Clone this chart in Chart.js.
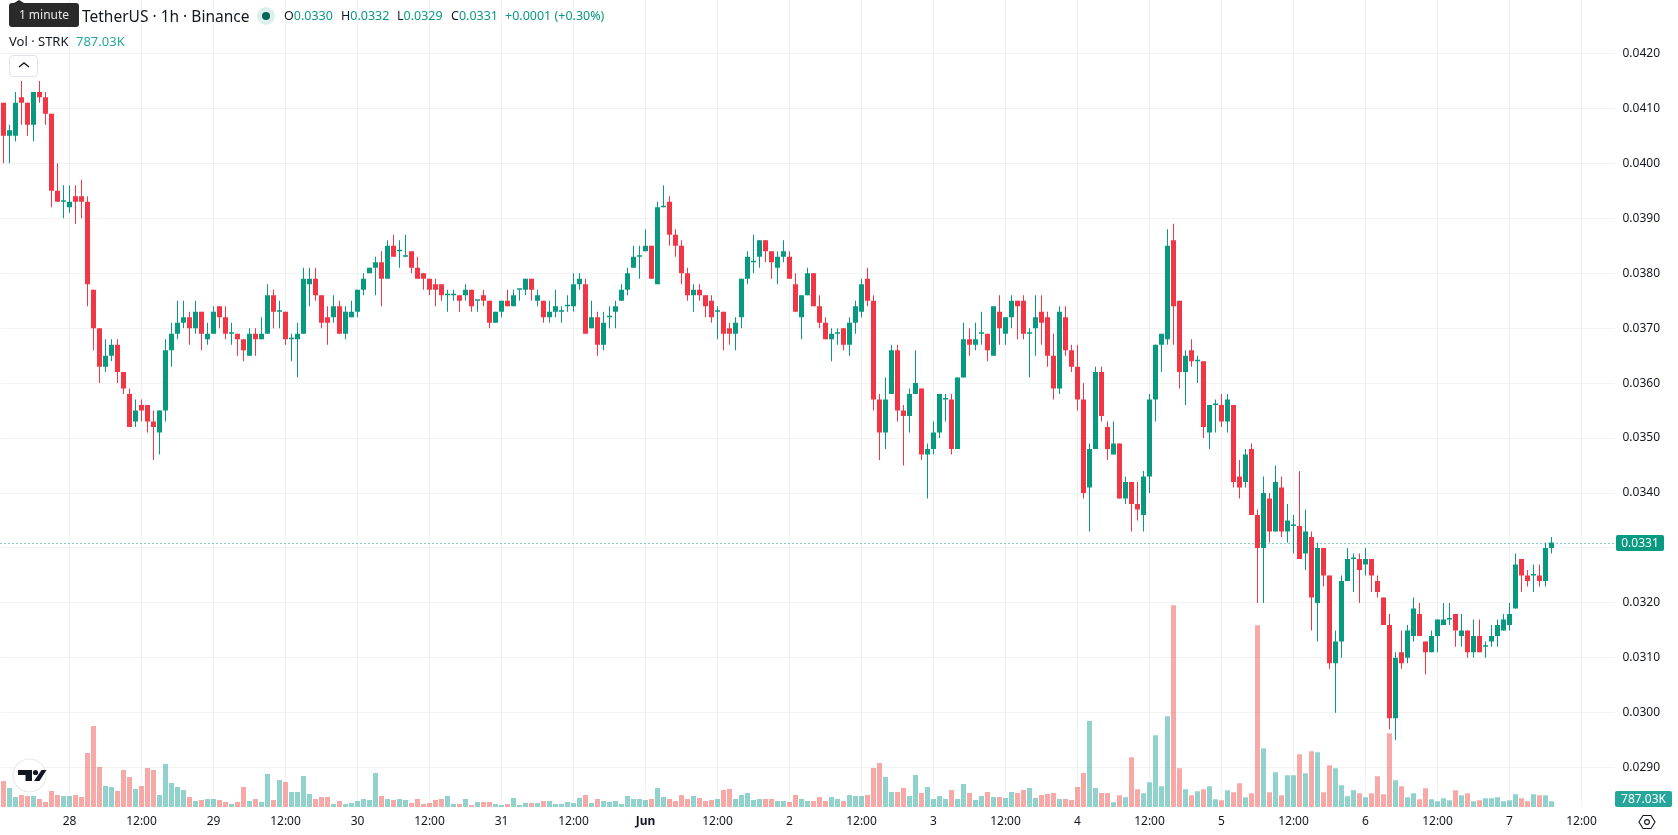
<!DOCTYPE html>
<html>
<head>
<meta charset="utf-8">
<title>STRK / USDT 1h</title>
<script src="https://cdn.jsdelivr.net/npm/chart.js@4"></script>
<style>
	html, body { margin: 0; padding: 0; background: #fff; overflow: hidden; }
	#wrap { position: relative; width: 1678px; height: 835px; font-family: "Noto Sans", sans-serif; color: #131722; }
	#wrap span, #wrap div.abs { position: absolute; white-space: nowrap; }
	canvas { position: absolute; left: 0; top: 0; }
	.up { color: #089981; }
	.ohlc { top: 6px; font-size: 12.5px; line-height: 20px; }
</style>
</head>
<body>
<div id="wrap">
	<canvas id="price-chart" width="1678" height="835"></canvas>

	<span style="left:82px;top:5px;font-size:15.5px;line-height:22px;">TetherUS · 1h · Binance</span>
	<div class="abs" style="left:257px;top:7px;width:18px;height:18px;border-radius:50%;background:#dcefec;"></div>
	<div class="abs" style="left:262px;top:12px;width:8px;height:8px;border-radius:50%;background:#056656;"></div>
	<span class="ohlc" style="left:284px;">O<b class="up" style="font-weight:400">0.0330</b></span>
	<span class="ohlc" style="left:341px;">H<b class="up" style="font-weight:400">0.0332</b></span>
	<span class="ohlc" style="left:397px;">L<b class="up" style="font-weight:400">0.0329</b></span>
	<span class="ohlc" style="left:451px;">C<b class="up" style="font-weight:400">0.0331</b></span>
	<span class="ohlc up" style="left:505px;">+0.0001 (+0.30%)</span>
	<span style="left:9px;top:31px;font-size:13px;line-height:20px;">Vol · STRK</span>
	<span style="left:76px;top:31px;font-size:13px;line-height:20px;color:#26a69a;">787.03K</span>

	<!-- hover tip over the start of the title -->
	<div class="abs" style="left:14px;top:0;width:0;height:0;border-left:5px solid transparent;border-right:5px solid transparent;border-bottom:3px solid #2a2a2a;"></div>
	<div class="abs" style="left:9px;top:3px;width:70px;height:24px;border-radius:3px;background:#2a2a2a;"></div>
	<span style="left:9px;top:3px;width:70px;text-align:center;font-size:12px;line-height:24px;color:#e8e8e8;">1 minute</span>

	<!-- collapse button -->
	<div class="abs" style="left:9px;top:55px;width:27px;height:20px;border:1px solid #e0e3eb;border-radius:4px;background:#fff;"></div>
	<svg style="position:absolute;left:17px;top:61px" width="14" height="8"><path d="M2 6 L7 2 L12 6" fill="none" stroke="#131722" stroke-width="1.4"/></svg>

	<!-- logo badge -->
	<svg style="position:absolute;left:12px;top:758px" width="35" height="35">
		<circle cx="17.5" cy="17.5" r="16.5" fill="#fff" stroke="#e9eaec" stroke-width="1.2"/>
		<path d="M6.5 12 H20.5 V23 H14 V17 H6.5 Z M30 12 H35 L28 23 H22.5 Z" fill="#131722" transform="translate(-0.5 0)"/>
		<circle cx="23.5" cy="14.5" r="2.6" fill="#131722"/>
	</svg>

	<!-- settings glyph -->
	<svg style="position:absolute;left:1638px;top:813px" width="18" height="18">
		<path d="M5 2.5 H13 L17 9 L13 15.5 H5 L1 9 Z" fill="none" stroke="#131722" stroke-width="1.1"/>
		<circle cx="9" cy="9" r="2.4" fill="none" stroke="#131722" stroke-width="1.1"/>
	</svg>
</div>

<script>
// prices are kept in units of 0.0001 USDT, one candle per hour, first candle 27 May 13:00
const opens = [
	411,405,405,412,411,407,413,412,409,395, 393,392,394,394,393,377,370,363,365,367,
	362,358,353,356,356,353,351,355,366,369, 371,372,370,373,368,369,374,372,369,369,
	368,365,369,368,369,376,373,373,368,368, 369,378,379,376,372,372,374,369,372,373,
	377,380,381,382,379,385,384,383,384,381, 380,379,378,378,376,376,376,376,377,375,
	376,375,371,373,375,374,377,377,379,375, 375,372,373,373,374,374,378,378,370,372,
	367,372,373,375,377,381,383,384,385,378, 392,393,387,385,380,376,377,376,375,373,
	373,370,369,372,379,382,383,386,384,381, 383,383,378,372,376,380,374,371,368,369,
	370,367,371,373,379,375,357,351,358,366, 355,354,358,359,347,348,351,357,357,348,
	361,368,367,369,369,365,373,369,372,375, 375,369,370,373,372,365,359,372,366,363,
	357,341,348,362,352,347,349,339,342,338, 336,343,357,367,368,386,375,362,366,364,
	364,351,356,356,353,356,343,342,348,336, 330,339,333,341,333,334,334,329,332,320,
	330,325,309,313,324,328,328,327,328,324, 321,316,299,311,310,314,318,313,311,314,
	316,317,318,314,315,311,314,312,313,314, 315,316,319,328,325,325,325,324,330
];
const highs = [
	411,407,413,415,411,413,415,413,409,400, 396,396,396,397,394,377,370,368,368,368,
	362,359,357,357,356,355,355,368,371,375, 375,373,375,373,371,374,374,374,371,369,
	368,370,370,372,378,377,375,373,369,371, 381,381,381,376,374,376,375,374,375,377,
	380,381,383,384,386,387,386,387,384,383, 380,379,379,378,377,377,376,378,377,375,
	377,375,373,375,377,377,377,379,379,377, 375,375,377,374,376,380,380,379,375,373,
	373,374,375,378,381,385,385,388,385,393, 396,394,388,386,381,378,378,376,376,374,
	373,371,372,379,384,387,386,386,384,384, 386,384,380,376,381,380,376,372,370,370,
	370,372,375,379,381,376,358,361,367,367, 356,359,366,359,349,353,358,358,358,361,
	371,370,371,373,369,374,376,372,376,375, 376,370,376,376,373,369,374,374,367,367,
	360,349,363,363,353,353,349,343,342,342, 344,358,367,369,388,389,375,366,368,365,
	364,356,357,358,358,356,346,348,349,337, 343,340,345,343,338,336,344,337,333,331,
	330,325,315,325,330,329,329,330,328,325, 321,318,311,315,316,321,320,313,315,317,
	320,320,318,318,315,317,317,313,316,317, 318,320,329,328,326,327,327,331,332
];
const lows = [
	400,400,404,407,405,404,411,407,392,393, 390,391,389,390,374,366,360,362,364,360,
	358,352,352,353,351,346,347,353,363,368, 370,367,369,366,367,369,370,368,367,365,
	364,365,365,368,369,370,370,367,364,361, 369,374,375,370,367,371,369,368,372,372,
	376,380,376,374,379,383,381,383,380,379, 377,376,374,375,373,375,373,375,373,373,
	374,370,371,372,374,374,375,376,375,374, 371,371,372,371,373,373,377,369,370,365,
	366,370,370,375,376,381,379,384,379,378, 392,385,383,378,375,373,375,372,371,368,
	366,367,366,370,378,380,381,382,379,378, 382,379,373,368,376,374,370,368,364,367,
	366,365,369,372,374,355,346,348,358,353, 345,351,358,346,339,347,350,353,347,348,
	361,365,366,367,364,365,367,367,370,368, 368,361,365,367,363,357,358,365,362,355,
	339,333,348,353,346,347,339,338,333,335, 333,340,353,362,367,367,359,356,363,360,
	350,348,351,352,351,341,339,341,336,320, 320,331,333,332,331,329,328,326,315,313,
	323,308,300,310,324,322,320,325,322,321, 316,297,295,308,309,313,314,307,311,311,
	316,316,312,312,310,310,311,310,312,312, 315,315,319,322,323,322,323,323,329
];
const closes = [
	405,406,411,411,407,413,412,409,395,393, 393,393,393,393,378,370,363,365,367,362,
	359,352,355,355,353,352,355,366,369,371, 372,370,373,369,369,373,372,369,369,368,
	366,369,368,369,376,373,373,368,368,369, 379,379,376,371,371,374,369,373,373,377,
	379,381,382,379,385,383,384,383,381,379, 379,377,377,376,376,376,375,377,374,375,
	375,371,373,375,374,376,377,379,377,376, 372,373,374,373,374,378,379,369,372,367,
	371,372,374,377,380,383,383,385,379,392, 392,387,385,380,376,377,376,374,372,373,
	369,369,371,379,383,382,386,384,382,383, 384,379,373,376,380,374,371,368,369,369,
	367,371,374,378,375,357,351,357,366,355, 354,358,360,347,348,351,358,357,348,361,
	368,367,368,369,366,374,370,372,375,374, 369,369,372,371,365,359,373,366,363,357,
	340,348,362,354,348,349,339,342,338,337, 343,357,367,369,385,374,362,365,364,364,
	352,356,356,353,357,342,341,347,336,330, 340,333,342,333,335,334,328,333,321,330,
	325,309,313,324,328,328,326,328,325,322, 316,299,310,309,315,319,314,311,314,317,
	317,317,315,315,311,314,311,312,314,316, 317,318,327,325,324,325,324,330,331
];
// traded volume, thousands of STRK
const volumes = [
	3611,2639,1389,1667,1528,1528,1111,695,2222,1667, 1528,1528,1667,1389,7501,11251,5556,2917,2778,2222,
	5139,4167,2500,2917,5417,5139,1667,5973,3334,2778, 2361,1389,833,972,1111,1111,972,695,417,695,
	2778,833,1111,695,4584,972,3750,3473,2084,2084, 4306,1806,1111,1389,1389,417,833,417,556,833,
	1111,972,4723,1528,1111,972,1111,972,556,1111, 417,556,972,1111,1528,417,417,1111,278,695,
	695,695,417,278,417,1250,278,556,556,556, 833,833,417,417,695,556,1250,1667,556,1111,
	833,695,833,417,1528,1111,1111,972,1111,2639, 1389,1111,833,1667,1111,1528,1250,833,972,1111,
	2361,2500,1111,1667,1945,972,1111,1111,1111,833, 833,695,1667,1111,833,833,1389,833,1389,1111,
	833,1667,1528,1528,1667,5417,6112,4167,2084,2084, 2639,1528,4445,1945,2778,1111,1528,1111,2361,1111,
	3195,1945,972,1528,2084,1389,1389,1250,2084,1945, 2361,2639,1250,1667,1806,1945,1111,1111,972,2778,
	4723,11945,2639,1945,1945,648,1621,1343,6899,2454, 1898,3426,9955,2871,12594,28012,5371,2454,1621,2176,
	2454,2871,1065,926,2315,2037,3287,1343,1898,25234, 8149,2037,4815,1621,4399,4399,7315,4676,7732,7593,
	2037,5788,5371,3010,1482,2315,1898,1343,1898,4260, 1759,10232,3704,2871,1343,1898,1065,2593,1065,787,
	1204,926,2315,1621,1898,787,926,1204,1204,1343, 787,926,1759,1204,787,1759,1621,1621,787.03
];
const timeTicks = ['28','12:00','29','12:00','30','12:00','31','12:00','Jun','12:00','2','12:00','3','12:00','4','12:00','5','12:00','6','12:00','7','12:00'];
const priceTicks = [0.0290,0.0300,0.0310,0.0320,0.0330,0.0340,0.0350,0.0360,0.0370,0.0380,0.0390,0.0400,0.0410,0.0420];

const UP = '#089981';
const DOWN = '#F23645';
const UP_VOL = 'rgba(38,166,154,0.5)';
const DOWN_VOL = 'rgba(239,83,80,0.5)';
const GRID = 'rgba(42,46,57,0.06)';
const FONT = '"Noto Sans", sans-serif';
const PRICE_UNIT = 0.0001;
const FIRST_TICK = 11;	// candle index of 28 May 00:00
const SLOTS = 269;		// candles plus the empty space on the right

var labels = [];
for (var i = 0; i < SLOTS; i++) {
	labels.push((i - FIRST_TICK) % 12 === 0 && i >= FIRST_TICK ? timeTicks[(i - FIRST_TICK) / 12] : '');
}

var isUp = opens.map(function (o, i) { return closes[i] >= o; });
var candleColors = isUp.map(function (u) { return u ? UP : DOWN; });
var volumeColors = isUp.map(function (u) { return u ? UP_VOL : DOWN_VOL; });

function tag(ctx, x, y, w, h, color, text) {
	ctx.fillStyle = color;
	ctx.beginPath();
	ctx.roundRect(x, y, w, h, 2);
	ctx.fill();
	ctx.fillStyle = '#fff';
	ctx.font = '12px ' + FONT;
	ctx.textAlign = 'center';
	ctx.textBaseline = 'middle';
	ctx.fillText(text, x + w / 2, y + h / 2 + 0.5);
}

// dotted last price line and the two value tags on the price axis
var lastValues = {
	id: 'lastValues',
	beforeDatasetsDraw: function (chart) {
		var ctx = chart.ctx;
		var y = Math.ceil(chart.scales.y.getPixelForValue(closes[closes.length - 1] * PRICE_UNIT)) + 0.5;
		ctx.save();
		ctx.strokeStyle = UP;
		ctx.lineWidth = 1;
		ctx.setLineDash([1, 3]);
		ctx.beginPath();
		ctx.moveTo(chart.chartArea.left, y);
		ctx.lineTo(chart.chartArea.right, y);
		ctx.stroke();
		ctx.restore();
	},
	afterDraw: function (chart) {
		var ctx = chart.ctx;
		var y = Math.ceil(chart.scales.y.getPixelForValue(closes[closes.length - 1] * PRICE_UNIT));
		ctx.save();
		tag(ctx, 1616, y - 8, 48, 16, UP, (closes[closes.length - 1] * PRICE_UNIT).toFixed(4));
		tag(ctx, 1615, 791, 57, 16, '#26a69a', volumes[volumes.length - 1] + 'K');
		ctx.restore();
	}
};

var priceChart = new Chart(document.getElementById('price-chart'), {
	type: 'bar',
	data: {
		labels: labels,
		datasets: [
			{
				label: 'Volume',
				yAxisID: 'vol',
				data: volumes,
				backgroundColor: volumeColors,
				maxBarThickness: 5,
				order: 3
			},
			{
				label: 'Wick',
				yAxisID: 'y',
				data: lows.map(function (l, i) { return [l * PRICE_UNIT, highs[i] * PRICE_UNIT]; }),
				backgroundColor: candleColors,
				maxBarThickness: 1,
				order: 2
			},
			{
				label: 'Candle',
				yAxisID: 'y',
				data: opens.map(function (o, i) { return [o * PRICE_UNIT, closes[i] * PRICE_UNIT]; }),
				backgroundColor: candleColors,
				maxBarThickness: 5,
				minBarLength: 1.5,
				order: 1
			}
		]
	},
	options: {
		responsive: false,
		animation: false,
		events: [],
		layout: { padding: { left: 0.5 } },
		datasets: {
			bar: {
				grouped: false,
				barPercentage: 1,
				categoryPercentage: 1,
				inflateAmount: 0,
				borderWidth: 0,
				borderSkipped: false
			}
		},
		plugins: {
			legend: { display: false },
			title: { display: false },
			tooltip: { enabled: false }
		},
		scales: {
			x: {
				offset: true,
				grid: { color: GRID, offset: false, drawTicks: false },
				border: { display: false },
				ticks: {
					autoSkip: false,
					maxRotation: 0,
					padding: 7,
					color: '#131722',
					font: function (ctx) {
						return { family: FONT, size: 12, weight: ctx.tick && ctx.tick.label === 'Jun' ? 'bold' : 'normal' };
					}
				},
				afterBuildTicks: function (scale) {
					scale.ticks = scale.ticks.filter(function (t) { return labels[t.value] !== ''; });
				},
				afterFit: function (scale) {
					scale.height = 28;
				}
			},
			y: {
				position: 'right',
				min: 0.028286,
				max: 0.042972,
				grid: { color: GRID, drawTicks: false },
				border: { display: false },
				ticks: {
					padding: 8,
					color: '#131722',
					font: { family: FONT, size: 12 },
					callback: function (v) { return v.toFixed(4); }
				},
				afterBuildTicks: function (scale) {
					scale.ticks = priceTicks.map(function (v) { return { value: v }; });
				},
				afterFit: function (scale) {
					scale.width = 63.5;
					scale.paddingTop = 0;
					scale.paddingBottom = 0;
				}
			},
			vol: {
				display: false,
				position: 'right',
				min: 0,
				max: 112092
			}
		}
	},
	plugins: [lastValues]
});
</script>
</body>
</html>
